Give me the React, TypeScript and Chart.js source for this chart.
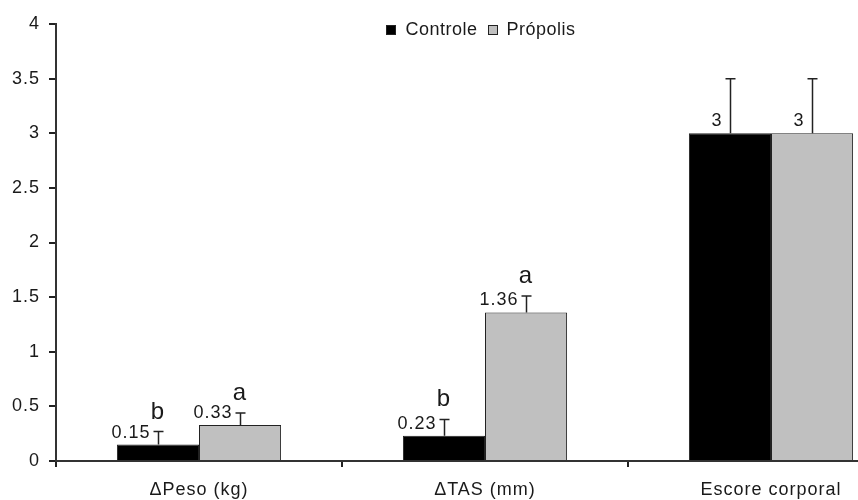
import React, { useEffect, useRef } from "react";
import { Chart, registerables } from "chart.js";

Chart.register(...registerables);

const categories = ["\u0394Peso (kg)", "\u0394TAS (mm)", "Escore corporal"];
const seriesNames = ["Controle", "Pr\u00f3polis"];
const controleValues = [0.15, 0.23, 3];
const propolisValues = [0.33, 1.36, 3];
const controleErrors = [0.12, 0.15, 0.5];
const propolisErrors = [0.11, 0.15, 0.5];
const controleValueLabels = ["0.15", "0.23", "3"];
const propolisValueLabels = ["0.33", "1.36", "3"];
const controleLetters = ["b", "b", ""];
const propolisLetters = ["a", "a", ""];
const seriesColors = ["#000000", "#c0c0c0"];

const FONT = "Arial, 'Liberation Sans', sans-serif";
const TEXT = "#1a1a1a";

const errorPlugin = {
  id: "errorBarsAndLabels",
  beforeDraw(chart: any) {
    chart.ctx.letterSpacing = "1px";
  },
  afterDatasetsDraw(chart: any) {
    const ctx = chart.ctx;
    const y = chart.scales.y;
    const errs = [controleErrors, propolisErrors];
    const vlabels = [controleValueLabels, propolisValueLabels];
    const letters = [controleLetters, propolisLetters];
    ctx.save();
    chart.data.datasets.forEach((ds: any, di: number) => {
      const meta = chart.getDatasetMeta(di);
      meta.data.forEach((bar: any, i: number) => {
        const v = ds.data[i];
        const top = y.getPixelForValue(v);
        const errTop = y.getPixelForValue(v + errs[di][i]);
        const x = Math.round(bar.x) + 0.5;
        ctx.strokeStyle = "#222";
        ctx.lineWidth = 1.5;
        ctx.beginPath();
        ctx.moveTo(x, top);
        ctx.lineTo(x, errTop);
        ctx.moveTo(x - 5, errTop);
        ctx.lineTo(x + 5, errTop);
        ctx.stroke();
        ctx.fillStyle = TEXT;
        ctx.letterSpacing = "1px";
        ctx.font = "18px " + FONT;
        ctx.textAlign = "right";
        ctx.textBaseline = "middle";
        ctx.fillText(vlabels[di][i], x - 8, top - 12);
        if (letters[di][i]) {
          ctx.letterSpacing = "0px";
          ctx.font = "24px " + FONT;
          ctx.textAlign = "center";
          ctx.textBaseline = "alphabetic";
          ctx.fillText(letters[di][i], x - 1, errTop - 13);
        }
      });
    });
    // legend
    const area = chart.chartArea;
    ctx.font = "18px " + FONT;
    ctx.letterSpacing = "0.5px";
    const box = 9;
    const gapBoxText = 10;
    const gapItems = 10;
    const widths = seriesNames.map((n) => ctx.measureText(n).width);
    const total =
      widths.reduce((a: number, b: number) => a + b, 0) +
      seriesNames.length * (box + gapBoxText) +
      gapItems * (seriesNames.length - 1);
    let lx = (area.left + area.right) / 2 - 4 - total / 2;
    const ly = 30;
    seriesNames.forEach((name, i) => {
      ctx.fillStyle = seriesColors[i];
      ctx.fillRect(Math.round(lx) + 0.5, ly - 5 + 0.5, box, box);
      ctx.strokeStyle = "#222";
      ctx.lineWidth = 1;
      ctx.strokeRect(Math.round(lx) + 0.5, ly - 5 + 0.5, box, box);
      lx += box + gapBoxText;
      ctx.fillStyle = TEXT;
      ctx.textAlign = "left";
      ctx.textBaseline = "middle";
      ctx.fillText(name, lx, ly);
      lx += widths[i] + gapItems;
    });
    ctx.restore();
  },
  afterDraw(chart: any) {
    chart.ctx.letterSpacing = "0px";
  },
};

export default function App() {
  const ref = useRef<HTMLCanvasElement | null>(null);
  useEffect(() => {
    if (!ref.current) return;
    const chart = new Chart(ref.current, {
      type: "bar",
      data: {
        labels: categories,
        datasets: [
          {
            label: seriesNames[0],
            data: controleValues,
            backgroundColor: seriesColors[0],
            borderColor: "#222",
            borderWidth: 1,
            categoryPercentage: 0.574,
            barPercentage: 1,
          },
          {
            label: seriesNames[1],
            data: propolisValues,
            backgroundColor: seriesColors[1],
            borderColor: "#222",
            borderWidth: 1,
            categoryPercentage: 0.574,
            barPercentage: 1,
          },
        ],
      },
      options: {
        responsive: false,
        animation: false,
        layout: { padding: { top: 24, right: 56, left: 0, bottom: 0 } },
        plugins: {
          legend: { display: false },
          tooltip: { enabled: false },
        },
        scales: {
          x: {
            grid: {
              offset: true,
              drawOnChartArea: false,
              drawTicks: true,
              tickLength: 6,
              color: "#222",
              lineWidth: 2,
            },
            border: { display: true, color: "#333", width: 2 },
            ticks: {
              color: TEXT,
              padding: 12,
              maxRotation: 0,
              font: { family: FONT, size: 18 },
            },
            afterFit(scale: any) {
              scale.height = 39;
            },
          },
          y: {
            min: 0,
            max: 4,
            grid: {
              drawOnChartArea: false,
              drawTicks: true,
              tickLength: 7,
              color: "#222",
              lineWidth: 2,
            },
            border: { display: true, color: "#333", width: 2 },
            ticks: {
              stepSize: 0.5,
              color: TEXT,
              padding: 9,
              font: { family: FONT, size: 18 },
              callback: (v: any) => String(v),
            },
            afterFit(scale: any) {
              scale.width = 56;
            },
          },
        },
      },
      plugins: [errorPlugin],
    });
    return () => chart.destroy();
  }, []);
  return (
    <div
      style={{
        position: "absolute",
        left: 0,
        top: 0,
        width: 858,
        height: 500,
        overflow: "hidden",
        background: "#fff",
      }}
    >
      <canvas ref={ref} width={970} height={500} style={{ display: "block" }} />
    </div>
  );
}
